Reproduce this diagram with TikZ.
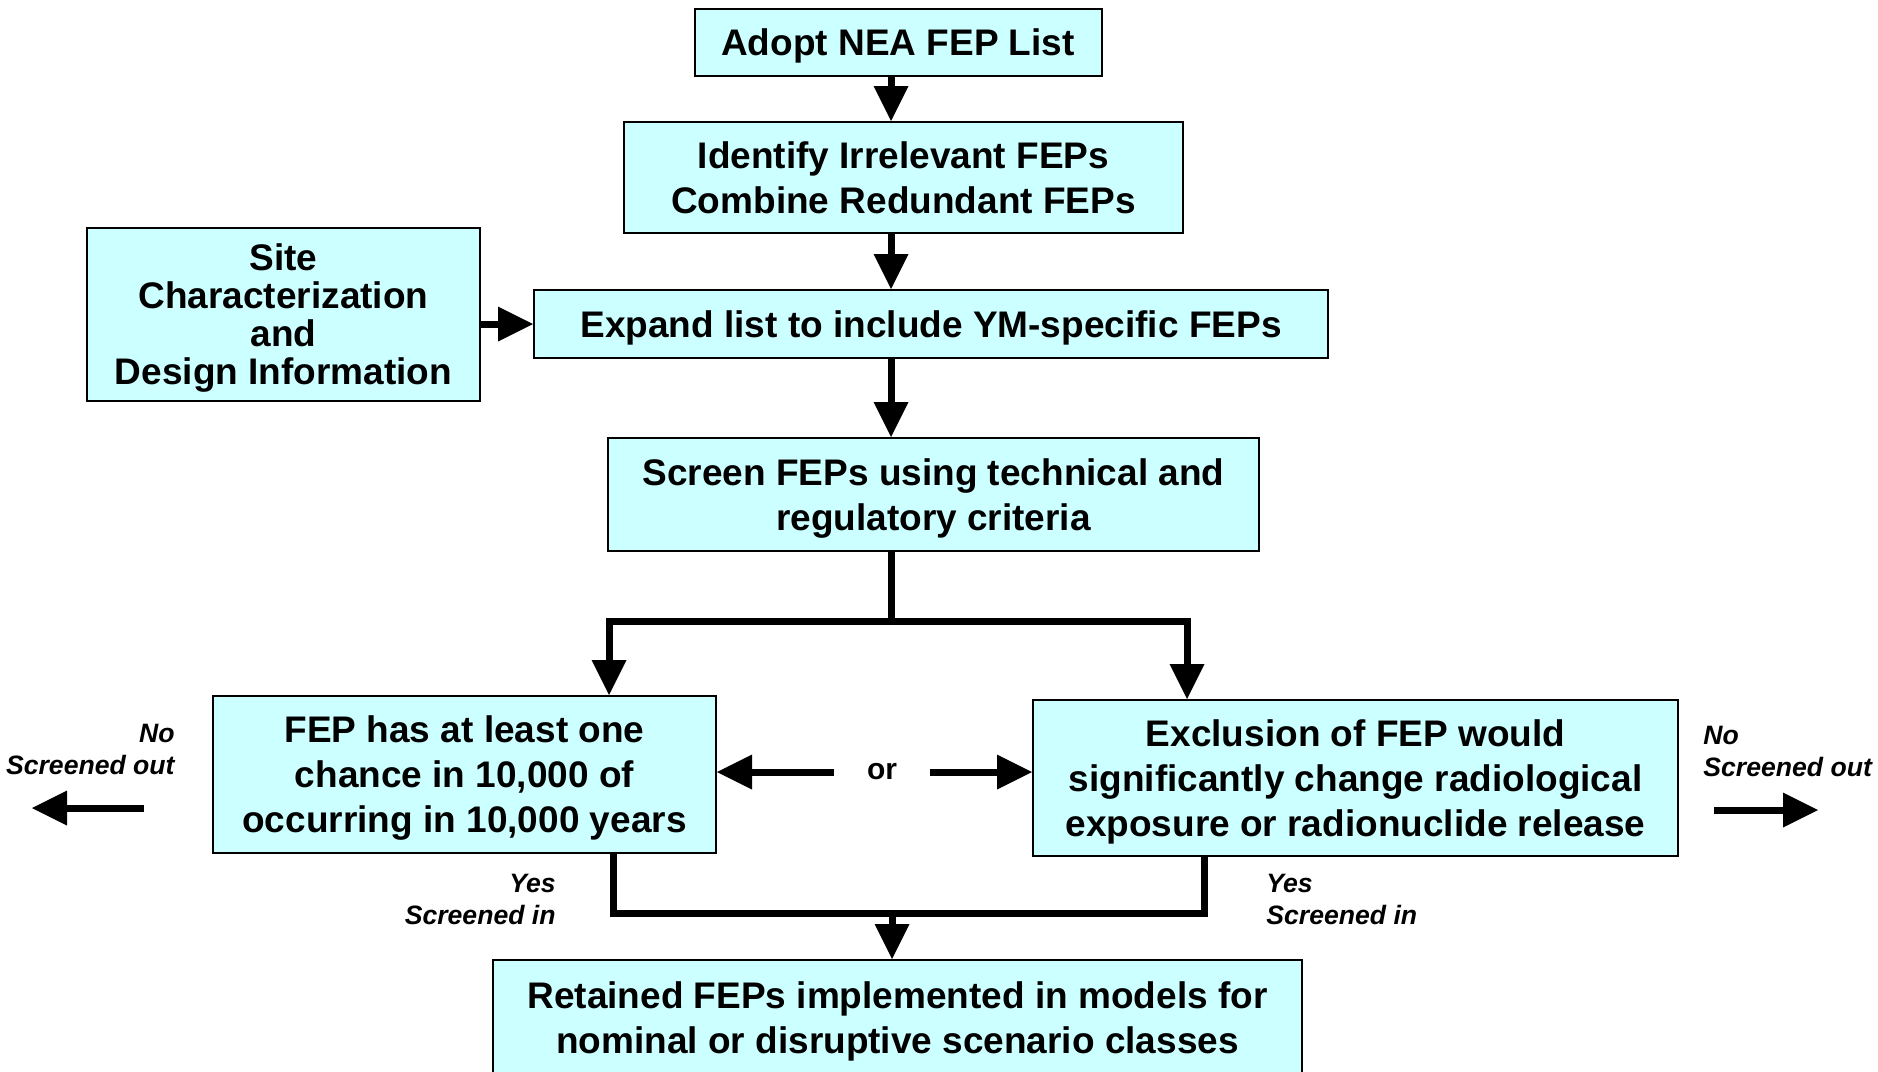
\documentclass[tikz,border=0pt]{standalone}
\usepackage{fontspec}
\setmainfont{Liberation Sans}
\usepackage{tikz}
\usetikzlibrary{positioning,calc,arrows.meta}
\definecolor{boxcyan}{RGB}{204,255,255}
\tikzstyle{block} = [draw, rectangle, fill=boxcyan, line width=1pt, align=center, inner sep=0pt, text depth=0pt, font=\fontsize{18.5}{22.5}\selectfont\bfseries]
\tikzstyle{remark} = [inner sep=0pt, font=\fontsize{13.3}{16}\selectfont\bfseries\itshape]
\tikzstyle{flow} = [-{Triangle[length=17.5pt,width=17.5pt,line width=0pt]}, line width=3.5pt]
\tikzstyle{line} = [line width=3.5pt]

\begin{document}
\begin{tikzpicture}[x=0.5pt, y=-0.5pt]
		\useasboundingbox (0,0) rectangle (1878,1071);
		\node (adopt) [block, minimum width=203.5pt, minimum height=33.5pt] at (898,42) {Adopt NEA FEP List};
		\node (ident) [block, minimum width=279.5pt, minimum height=55.5pt] at (903.5,177.5) {Identify Irrelevant FEPs\\Combine Redundant FEPs};
		\node (site) [block, minimum width=196.5pt, minimum height=86.5pt, font=\fontsize{18.5}{19}\selectfont\bfseries] at (283.5,314.5) {Site\\Characterization\\and\\Design Information};
		\node (expand) [block, minimum width=397pt, minimum height=34pt] at (931,324) {Expand list to include YM-specific FEPs};
		\node (screen) [block, minimum width=325.5pt, minimum height=56.5pt] at (933.5,494.5) {Screen FEPs using technical and\\regulatory criteria};
		\node (chance) [block, minimum width=251.5pt, minimum height=78.5pt] at (464.5,774.5) {FEP has at least one\\chance in 10,000 of\\occurring in 10,000 years};
		\node (excl) [block, minimum width=322.5pt, minimum height=78pt] at (1355.5,778) {Exclusion of FEP would\\significantly change radiological\\exposure or radionuclide release};
		\node (retain) [block, minimum width=404.5pt, minimum height=57.5pt] at (897.5,1017.5) {Retained FEPs implemented in models for\\nominal or disruptive scenario classes};
		\node (or) [inner sep=0pt, minimum width=47.5pt, font=\fontsize{15}{18}\selectfont\bfseries] at (882,772) {or};
		\node (noL) [remark, align=right, anchor=east] at (175,749) {No\\Screened out};
		\node (noR) [remark, align=left, anchor=west] at (1703,751) {No\\Screened out};
		\node (yesL) [remark, align=right, anchor=east] at (556,899) {Yes\\Screened in};
		\node (yesR) [remark, align=left, anchor=west] at (1266,899) {Yes\\Screened in};
		\coordinate (spine) at (891,0);
		\coordinate (split) at (891,621);
		\coordinate (bl) at (609,621);
		\coordinate (br) at (1187,621);
		\coordinate (join) at (892,913);
		\coordinate (jl) at (613,913);
		\coordinate (jr) at (1204,913);
		\coordinate (outL1) at (144,808); \coordinate (outL2) at (32,808);
		\coordinate (outR1) at (1714,810); \coordinate (outR2) at (1818,810);
		\draw[flow] (adopt.south -| spine) -- (ident.north -| spine);
		\draw[flow] (ident.south -| spine) -- (expand.north -| spine);
		\draw[flow] (site.east |- expand.west) -- (expand.west);
		\draw[flow] (expand.south -| spine) -- (screen.north -| spine);
		\draw[line] (screen.south -| split) -- (split);
		\draw[flow] (split) -| (bl |- chance.north);
		\draw[flow] (split) -| (br |- excl.north);
		\draw[flow] (or.west) -- (or.west -| chance.east);
		\draw[flow] (or.east) -- (or.east -| excl.west);
		\draw[flow] (outL1) -- (outL2);
		\draw[flow] (outR1) -- (outR2);
		\draw[line] (chance.south -| jl) |- (join) -| (excl.south -| jr);
		\draw[flow] (join) -- (join |- retain.north);
\end{tikzpicture}
\end{document}
